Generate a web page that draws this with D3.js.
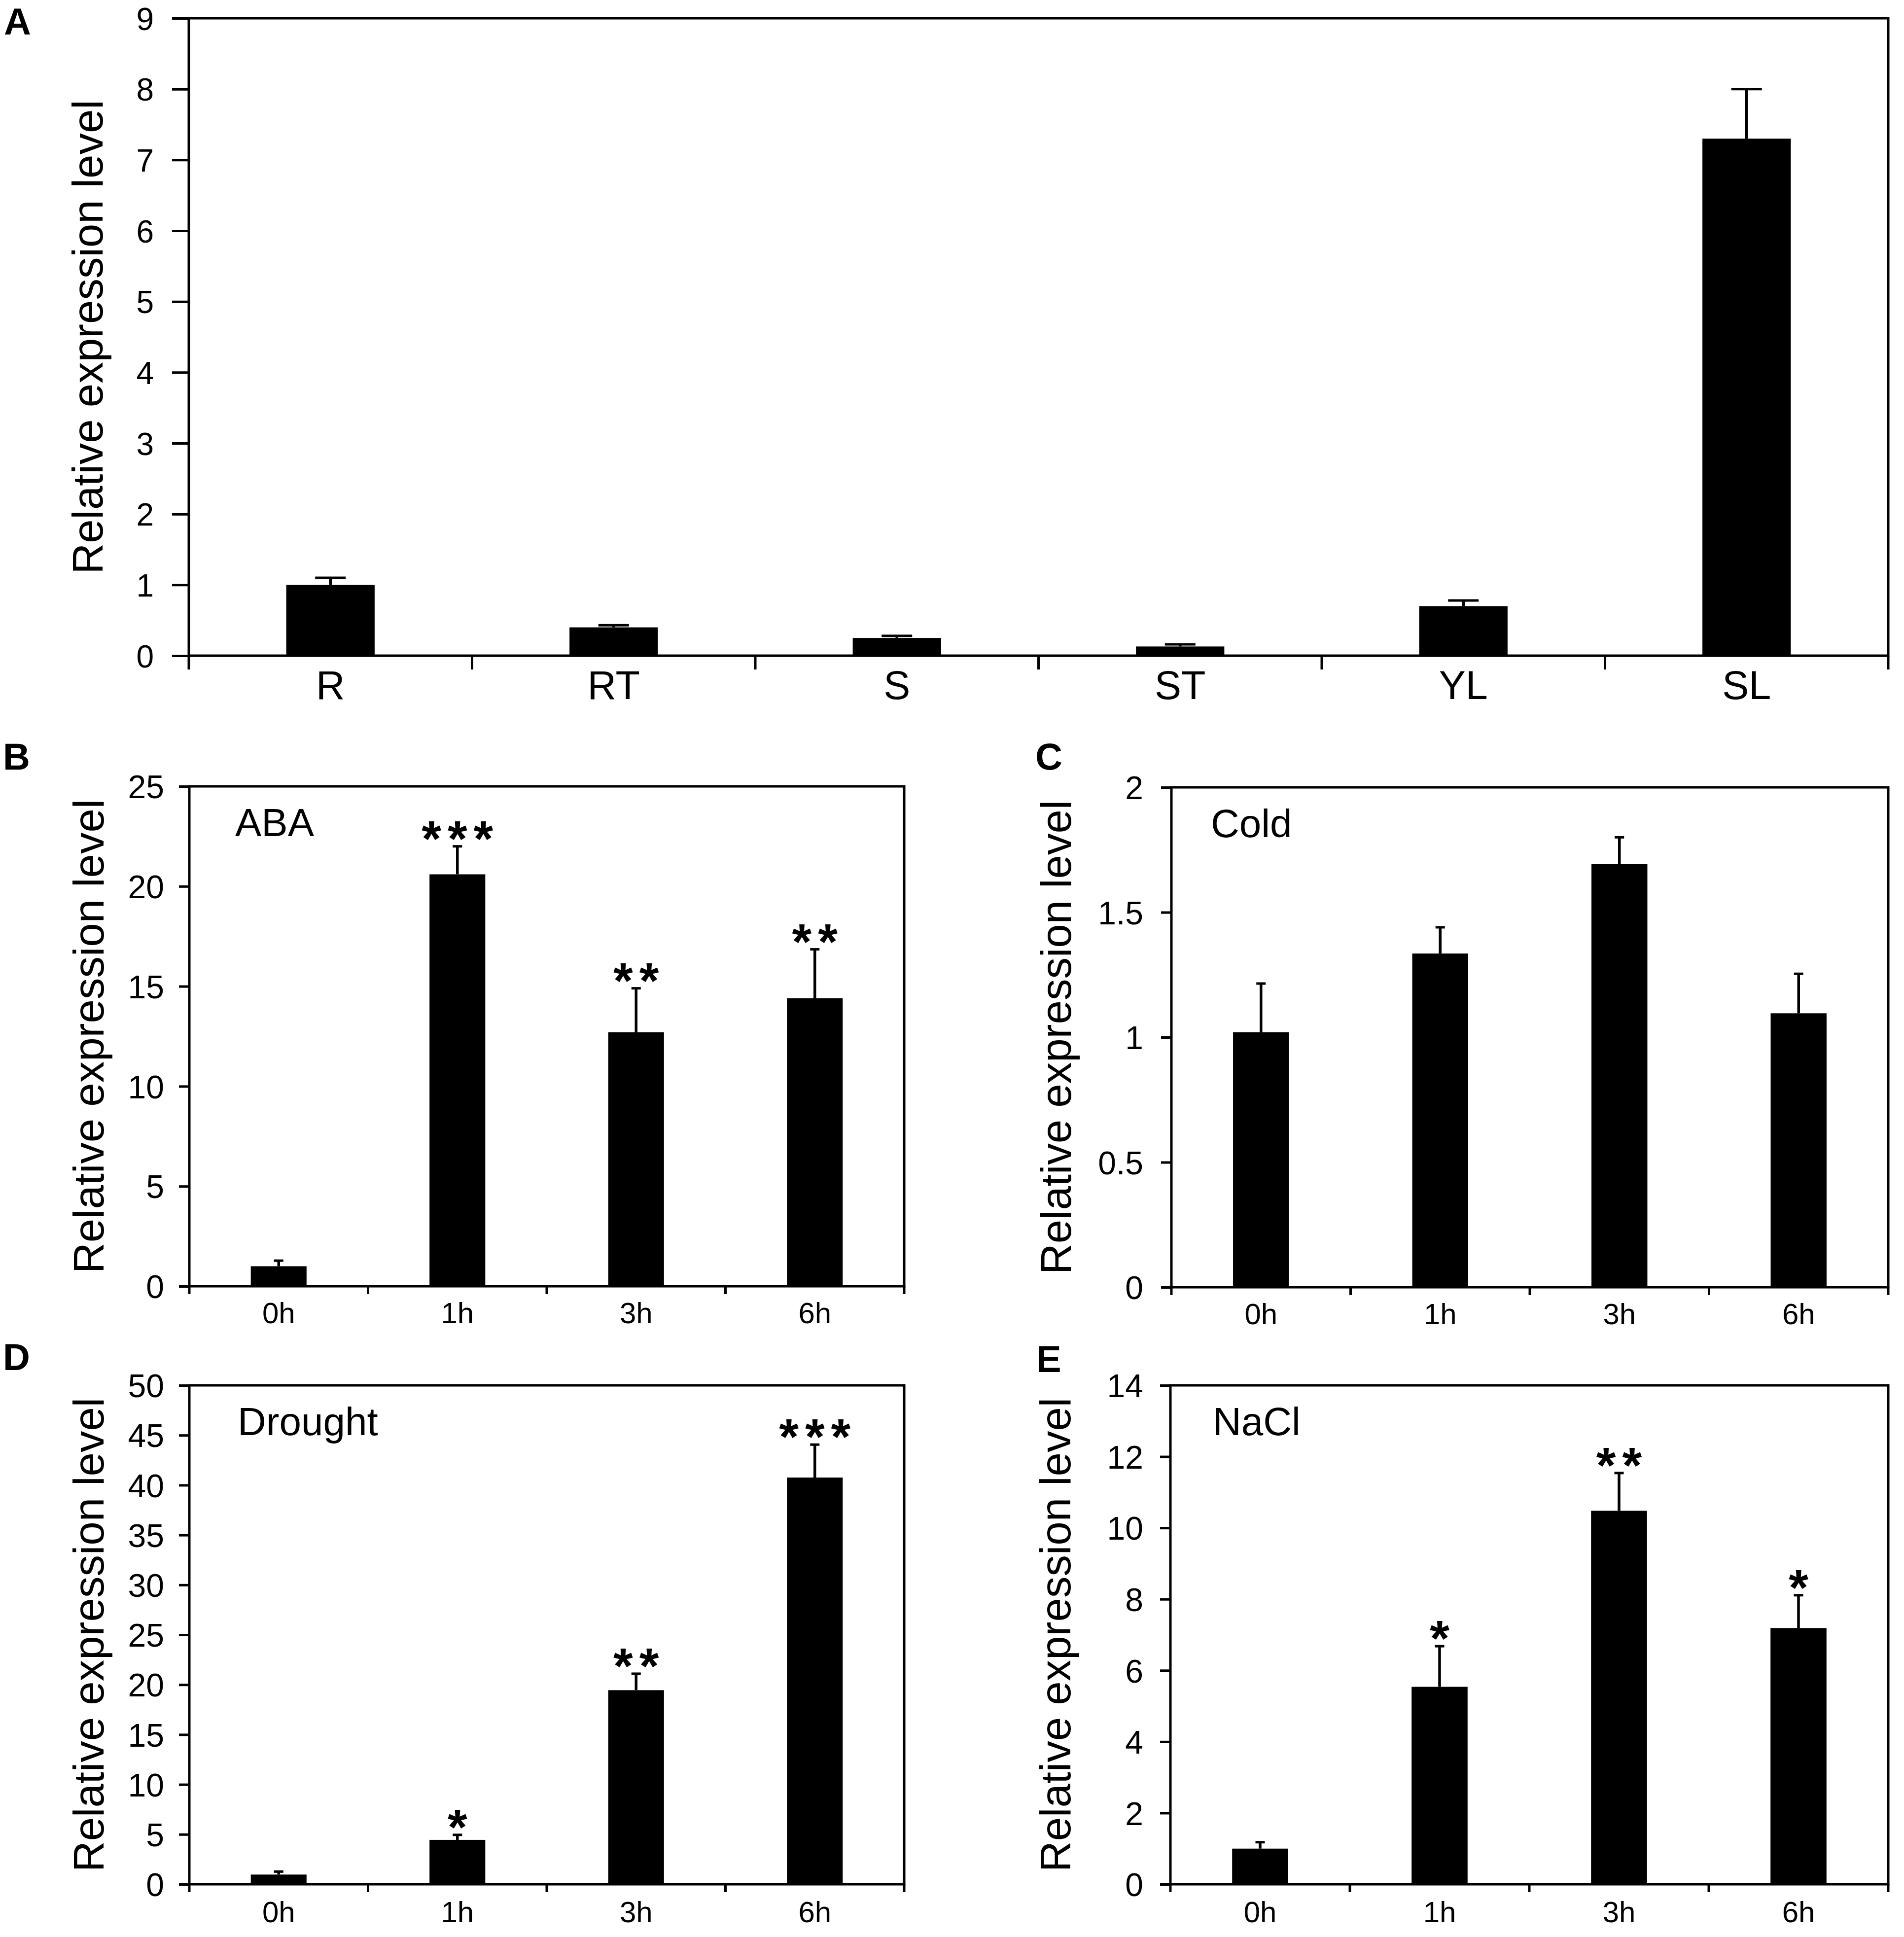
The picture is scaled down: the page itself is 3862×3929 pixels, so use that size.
<!DOCTYPE html>
<html><head><meta charset="utf-8">
<script src="https://cdn.jsdelivr.net/npm/d3@7/dist/d3.min.js"></script>
<style>body{margin:0;background:#fff}</style>
</head><body>
<svg id="chart" width="3862" height="3929" xmlns="http://www.w3.org/2000/svg"></svg>
<script>
// ---------- data ----------
const tissueCats = ["R", "RT", "S", "ST", "YL", "SL"];
const tissueMean = [1.00, 0.40, 0.25, 0.13, 0.70, 7.30];
const tissueErr  = [0.10, 0.03, 0.03, 0.03, 0.08, 0.70];
const tissueTicks = [0, 1, 2, 3, 4, 5, 6, 7, 8, 9];

const timeCats = ["0h", "1h", "3h", "6h"];

const abaMean = [1.00, 20.60, 12.70, 14.40];
const abaErr  = [0.28, 1.40, 2.20, 2.45];
const abaSig  = ["", "***", "**", "**"];
const abaTicks = [0, 5, 10, 15, 20, 25];

const coldMean = [1.02, 1.335, 1.693, 1.096];
const coldErr  = [0.195, 0.105, 0.107, 0.158];
const coldSig  = ["", "", "", ""];
const coldTicks = [0, 0.5, 1, 1.5, 2];

const droughtMean = [0.97, 4.45, 19.45, 40.76];
const droughtErr  = [0.30, 0.50, 1.65, 3.30];
const droughtSig  = ["", "*", "**", "***"];
const droughtTicks = [0, 5, 10, 15, 20, 25, 30, 35, 40, 45, 50];

const naclMean = [1.00, 5.54, 10.48, 7.19];
const naclErr  = [0.18, 1.14, 1.06, 0.92];
const naclSig  = ["", "*", "**", "*"];
const naclTicks = [0, 2, 4, 6, 8, 10, 12, 14];

const yTitle = "Relative expression level";

// ---------- drawing ----------
const FONT = "'Liberation Sans', Arial, Helvetica, sans-serif";
const svg = d3.select("#chart");
svg.append("rect").attr("width", 3862).attr("height", 3929).attr("fill", "#fff");

const STAR_SIZE = 102, STAR_LS = 13;

function panel(o) {
  const g = svg.append("g");
  const x = d3.scaleBand().domain(o.cats).range([o.left, o.right]).padding(0);
  const y = d3.scaleLinear().domain([0, o.ticks[o.ticks.length - 1]]).range([o.bottom, o.top]);
  const bw = x.bandwidth() * 0.312;
  const cx = d => x(d) + x.bandwidth() / 2;

  // bars
  g.selectAll("rect.bar").data(o.cats).join("rect")
    .attr("class", "bar")
    .attr("x", d => cx(d) - bw / 2)
    .attr("y", (d, i) => y(o.vals[i]))
    .attr("width", bw)
    .attr("height", (d, i) => y(0) - y(o.vals[i]))
    .attr("fill", "#000");

  // error bars (upward only)
  g.selectAll("line.err").data(o.cats).join("line")
    .attr("class", "err")
    .attr("x1", d => cx(d)).attr("x2", d => cx(d))
    .attr("y1", (d, i) => y(o.vals[i]))
    .attr("y2", (d, i) => y(o.vals[i] + o.errs[i]))
    .attr("stroke", "#000").attr("stroke-width", 5.5);
  g.selectAll("line.cap").data(o.cats).join("line")
    .attr("class", "cap")
    .attr("x1", d => cx(d) - o.capW / 2).attr("x2", d => cx(d) + o.capW / 2)
    .attr("y1", (d, i) => y(o.vals[i] + o.errs[i]))
    .attr("y2", (d, i) => y(o.vals[i] + o.errs[i]))
    .attr("stroke", "#000").attr("stroke-width", 5);

  // significance stars
  if (o.sig) {
    g.selectAll("text.sig").data(o.cats).join("text")
      .attr("class", "sig")
      .attr("x", d => cx(d) + STAR_LS / 2)
      .attr("y", (d, i) => y(o.vals[i] + o.errs[i]) + 19)
      .attr("text-anchor", "middle")
      .attr("font-family", FONT).attr("font-size", STAR_SIZE).attr("font-weight", "bold")
      .attr("letter-spacing", STAR_LS)
      .text((d, i) => o.sig[i]);
  }

  // y axis
  const ya = g.append("g")
    .attr("transform", `translate(${o.left},0)`)
    .call(d3.axisLeft(y).tickValues(o.ticks).tickSize(o.yTick).tickSizeOuter(0)
      .tickPadding(o.yPad).tickFormat(d3.format("~g")));
  ya.select(".domain").remove();
  ya.selectAll("line").attr("stroke", "#000").attr("stroke-width", 5);
  ya.selectAll("text").attr("font-family", FONT).attr("font-size", o.tickFont)
    .attr("fill", "#000").attr("dy", "0.36em");

  // x ticks at band boundaries
  const bounds = [o.left].concat(o.cats.map(c => x(c) + x.bandwidth()));
  g.selectAll("line.xt").data(bounds).join("line")
    .attr("class", "xt")
    .attr("x1", d => d).attr("x2", d => d)
    .attr("y1", o.bottom).attr("y2", o.bottom + o.xTick)
    .attr("stroke", "#000").attr("stroke-width", 5);

  // x labels
  g.selectAll("text.xl").data(o.cats).join("text")
    .attr("class", "xl")
    .attr("x", d => cx(d)).attr("y", o.bottom + o.xLab)
    .attr("text-anchor", "middle")
    .attr("font-family", FONT).attr("font-size", o.xFont)
    .text(d => d);

  // frame
  g.append("rect")
    .attr("x", o.left).attr("y", o.top)
    .attr("width", o.right - o.left).attr("height", o.bottom - o.top)
    .attr("fill", "none").attr("stroke", "#000").attr("stroke-width", 5);

  // y title
  g.append("text")
    .attr("transform", `translate(${o.left - o.titleOff},${(o.top + o.bottom) / 2}) rotate(-90)`)
    .attr("text-anchor", "middle")
    .attr("font-family", FONT).attr("font-size", 87)
    .text(yTitle);

  // inner treatment label
  if (o.name) {
    g.append("text")
      .attr("x", o.left + o.nameDx).attr("y", o.top + 101)
      .attr("font-family", FONT).attr("font-size", 80)
      .text(o.name);
  }

  // panel letter
  g.append("text")
    .attr("x", o.letterX).attr("y", o.letterY)
    .attr("font-family", FONT).attr("font-weight", "bold").attr("font-size", 76)
    .text(o.letter);
}

panel({cats: tissueCats, vals: tissueMean, errs: tissueErr, sig: null, ticks: tissueTicks,
  left: 383, right: 3830, top: 37, bottom: 1330,
  yTick: 34, yPad: 37, xTick: 28, xLab: 88, tickFont: 64, xFont: 81, capW: 62,
  titleOff: 175, letter: "A", letterX: 8, letterY: 70});

panel({cats: timeCats, vals: abaMean, errs: abaErr, sig: abaSig, ticks: abaTicks,
  left: 384, right: 1834, top: 1595, bottom: 2609,
  yTick: 21, yPad: 30, xTick: 16, xLab: 75, tickFont: 66, xFont: 60, capW: 19,
  titleOff: 174, name: "ABA", nameDx: 93,
  letter: "B", letterX: 6, letterY: 1561});

panel({cats: timeCats, vals: coldMean, errs: coldErr, sig: coldSig, ticks: coldTicks,
  left: 2376, right: 3830, top: 1597, bottom: 2611,
  yTick: 21, yPad: 36, xTick: 16, xLab: 75, tickFont: 66, xFont: 60, capW: 19,
  titleOff: 204, name: "Cold", nameDx: 80,
  letter: "C", letterX: 2100, letterY: 1561});

panel({cats: timeCats, vals: droughtMean, errs: droughtErr, sig: droughtSig, ticks: droughtTicks,
  left: 384, right: 1834, top: 2810, bottom: 3822,
  yTick: 21, yPad: 30, xTick: 16, xLab: 77, tickFont: 66, xFont: 60, capW: 19,
  titleOff: 174, name: "Drought", nameDx: 98,
  letter: "D", letterX: 6, letterY: 2779});

panel({cats: timeCats, vals: naclMean, errs: naclErr, sig: naclSig, ticks: naclTicks,
  left: 2374, right: 3830, top: 2810, bottom: 3822,
  yTick: 21, yPad: 34, xTick: 16, xLab: 77, tickFont: 66, xFont: 60, capW: 19,
  titleOff: 203, name: "NaCl", nameDx: 86,
  letter: "E", letterX: 2102, letterY: 2783});
</script>
</body></html>
